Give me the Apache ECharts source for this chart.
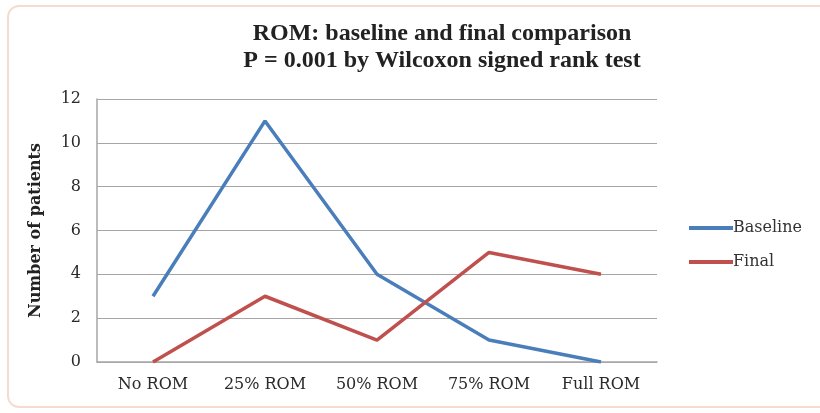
<!DOCTYPE html>
<html><head><meta charset="utf-8">
<script src="https://cdn.jsdelivr.net/npm/echarts@6/dist/echarts.min.js"></script>
<style>
html,body{margin:0;padding:0;background:#fff;}
#frame{position:absolute;left:7px;top:5px;width:830px;height:403px;border:2px solid #f6dccf;border-radius:12px;box-sizing:border-box;}
#c{position:absolute;left:0;top:0;width:820px;height:413px;}
</style></head>
<body>
<div id="frame"></div>
<div id="c"></div>
<script>
var categories = ['No ROM', '25% ROM', '50% ROM', '75% ROM', 'Full ROM'];
var baseline = [3, 11, 4, 1, 0];
var finalVals = [0, 3, 1, 5, 4];
var titleLines = ['ROM: baseline and final comparison', 'P = 0.001 by Wilcoxon signed rank test'];
var yName = 'Number of patients';

var chart = echarts.init(document.getElementById('c'), null, {renderer: 'canvas'});
var serif = '"Liberation Serif", "Times New Roman", serif';
var slab = '"DejaVu Serif", serif';
chart.setOption({
  animation: false,
  title: {
    text: titleLines.join('\n'),
    left: 437, top: 15, textAlign: 'center',
    textStyle: {fontFamily: serif, fontWeight: 'bold', fontSize: 24, color: '#222', lineHeight: 27}
  },
  legend: {
    orient: 'vertical', left: 684, top: 215, itemGap: 18,
    icon: 'rect', itemWidth: 44, itemHeight: 4,
    textStyle: {fontFamily: slab, fontSize: 16, color: '#333', padding: [0,0,0,-5]},
    data: ['Baseline', 'Final']
  },
  grid: {left: 97, right: 163, top: 99, bottom: 51},
  xAxis: {
    type: 'category', data: categories, boundaryGap: true,
    axisLine: {lineStyle: {color: '#a6a6a6', width: 1.5}},
    axisTick: {show: false},
    axisLabel: {fontFamily: slab, fontSize: 16, color: '#2a2a2a', margin: 15}
  },
  yAxis: {
    type: 'value', min: 0, max: 12, interval: 2,
    name: yName, nameLocation: 'middle', nameGap: 53, nameRotate: 90,
    nameTextStyle: {fontFamily: slab, fontWeight: 'bold', fontSize: 16, color: '#222'},
    axisLine: {show: true, lineStyle: {color: '#a6a6a6', width: 1.5}},
    axisTick: {show: false},
    splitLine: {lineStyle: {color: '#a6a6a6', width: 1.2}},
    axisLabel: {fontFamily: slab, fontSize: 16, color: '#2a2a2a', margin: 16}
  },
  series: [
    {name: 'Baseline', type: 'line', data: baseline, symbol: 'none',
     lineStyle: {color: '#4a7ebb', width: 3.5}, itemStyle: {color: '#4a7ebb'}},
    {name: 'Final', type: 'line', data: finalVals, symbol: 'none',
     lineStyle: {color: '#c0504d', width: 3.5}, itemStyle: {color: '#c0504d'}}
  ]
});
</script>
</body></html>
